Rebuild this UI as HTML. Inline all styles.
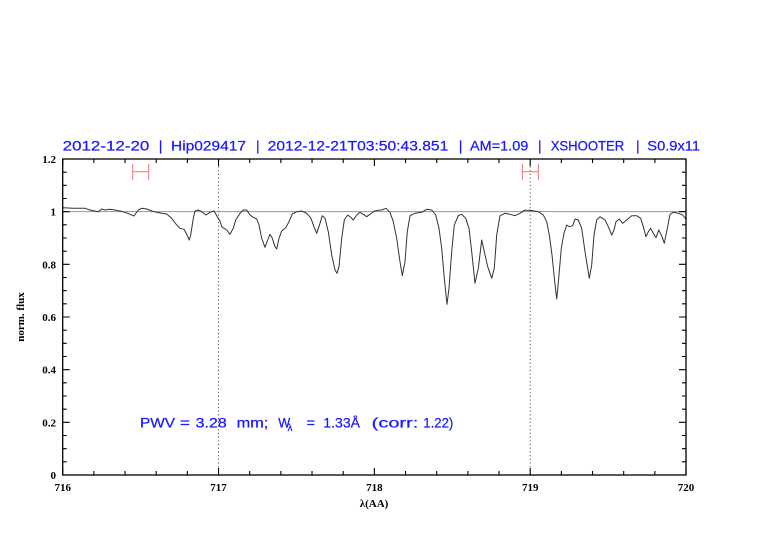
<!DOCTYPE html>
<html><head><meta charset="utf-8"><style>
html,body{margin:0;padding:0;background:#fff;}
svg{display:block;}
</style></head><body>
<svg width="782" height="542" viewBox="0 0 782 542" xmlns="http://www.w3.org/2000/svg">
<rect width="782" height="542" fill="#fff"/>
<!-- title -->
<g font-family="Liberation Sans, sans-serif" font-size="14" fill="#1a1aff" stroke="#1a1aff" stroke-width="0.25" lengthAdjust="spacingAndGlyphs">
<text x="62.7" y="150.5" textLength="86.6" lengthAdjust="spacingAndGlyphs">2012-12-20</text>
<text x="158.8" y="150.5">|</text>
<text x="171" y="150.5" textLength="75" lengthAdjust="spacingAndGlyphs">Hip029417</text>
<text x="256" y="150.5">|</text>
<text x="267.7" y="150.5" textLength="180.6" lengthAdjust="spacingAndGlyphs">2012-12-21T03:50:43.851</text>
<text x="458.7" y="150.5">|</text>
<text x="470" y="150.5" textLength="58.3" lengthAdjust="spacingAndGlyphs">AM=1.09</text>
<text x="538" y="150.5">|</text>
<text x="550.7" y="150.5" textLength="73.6" lengthAdjust="spacingAndGlyphs">XSHOOTER</text>
<text x="636" y="150.5">|</text>
<text x="647.3" y="150.5" textLength="52.7" lengthAdjust="spacingAndGlyphs">S0.9x11</text>
</g>
<!-- reference line y=1 -->
<line x1="62.7" y1="211.67" x2="686" y2="211.67" stroke="#f07070" stroke-width="1"/>
<!-- dotted verticals -->
<line x1="218.5" y1="159" x2="218.5" y2="475" stroke="#555" stroke-width="1" stroke-dasharray="1.2,2.5"/>
<line x1="530.2" y1="159" x2="530.2" y2="475" stroke="#555" stroke-width="1" stroke-dasharray="1.2,2.5"/>
<!-- spectrum -->
<polyline fill="none" stroke="#333" stroke-width="1" stroke-linejoin="round" points="62.7,207.7 73.3,208.3 85,208.3 90,210 98.3,211.7 101.7,209 105,210 110,209.3 115,210 120,211 125,212.3 130,214.3 134,216 138.3,210 141.7,208.3 146.7,209 151.7,211 156.7,212.3 161.7,213.3 166.7,214 171.7,218.3 176.7,225 180,228.3 184,229.3 186.7,234.3 189.3,240 190.7,235 193.3,218.3 195,211 198.3,210 201.7,211.7 206,215 210,212.3 214,211 217.3,216.7 220,221 221.7,226.7 226.7,230 230,234.3 233.3,228.3 235.7,220 240,213.3 243.3,210 246.7,210 250,215 253.3,217.3 256.7,219 259,225 261.7,238.3 265,247.3 267.7,240 270,234.3 272.3,238.3 275,246.7 276.7,249 279,238.3 281.7,231 285.7,227.7 289,221.7 292.3,214 296.7,211.7 301.7,211 306.7,213.3 311,218.3 314.3,227.7 316.7,233.3 320,223.3 322.3,215.7 325,218.3 328.3,231.7 331.7,255 335,270 337,273.3 339,266.7 341.7,238.3 344.3,220 347.7,215 350,216.7 353.3,220 356.7,215 360,212.3 363.3,214.3 366.7,216.7 370,214.3 374.3,211 378.3,210.3 381.7,210 386,208.3 390,212.3 393.3,221.7 396.7,238.3 400,261.7 402.3,275.7 405,261.7 407.3,231.7 410,215.7 415,213.3 421.7,212.3 426.7,209.3 431.7,210 435.7,215 439,228.3 441.7,248.3 444.3,278.3 447,304.3 449,288.3 451.7,251.7 454.3,225 458.3,215.7 461.7,214.3 465.7,218.3 469,228.3 471.7,251.7 475,283.3 478.3,268.3 481.7,240 484.3,251.7 487.7,266.7 491.7,278.3 494.3,268.3 496.7,235 500,215.7 505,213.3 510,214.3 515,215.7 520,213.3 524.3,210.3 530,210.3 538.3,211.7 543.3,215 546.7,221.7 549.3,235 552,255 554.7,281.7 556.7,299 558.7,278.3 561.3,248.3 564,233.3 566.7,225 569.3,226.7 572.7,225.7 575,219 578.3,220 581.7,228.3 585,251.7 589.3,278.3 591.7,265 594,235 596.7,220 600,216.7 605,220 608.3,226.7 611.7,235 614,230 616,221.7 619.3,219 622.7,223.3 626.7,220 631.7,215.7 636.7,215.7 640.7,218.3 643.3,226.7 646,236.7 648.3,231.7 650.7,228.3 653.3,233.3 656,237.7 658.7,230 661.7,235.7 664.3,243.3 666.7,231.7 670,214.3 673.3,212.3 678.3,213.3 682.7,215 685.7,219"/>
<!-- red error bars -->
<g stroke="#f07070" stroke-width="1" fill="none">
<path d="M132.7 171.7 H148.7 M132.7 164 V179.7 M148.7 164 V179.7"/>
<path d="M522.3 171.7 H538.3 M522.3 164 V179.7 M538.3 164 V179.7"/>
</g>
<!-- frame -->
<rect x="62.7" y="159" width="623.3" height="316" fill="none" stroke="#000" stroke-width="1.3"/>
<!-- ticks -->
<g stroke="#000" stroke-width="1.1" fill="none">
<path d="M62.7 475h7M62.7 461.83h4M62.7 448.67h4M62.7 435.5h4M62.7 422.33h7M62.7 409.17h4M62.7 396h4M62.7 382.83h4M62.7 369.67h7M62.7 356.5h4M62.7 343.33h4M62.7 330.17h4M62.7 317h7M62.7 303.83h4M62.7 290.67h4M62.7 277.5h4M62.7 264.33h7M62.7 251.17h4M62.7 238h4M62.7 224.83h4M62.7 211.67h7M62.7 198.5h4M62.7 185.33h4M62.7 172.17h4M62.7 159h7"/>
<path d="M686 475h-7M686 461.83h-4M686 448.67h-4M686 435.5h-4M686 422.33h-7M686 409.17h-4M686 396h-4M686 382.83h-4M686 369.67h-7M686 356.5h-4M686 343.33h-4M686 330.17h-4M686 317h-7M686 303.83h-4M686 290.67h-4M686 277.5h-4M686 264.33h-7M686 251.17h-4M686 238h-4M686 224.83h-4M686 211.67h-7M686 198.5h-4M686 185.33h-4M686 172.17h-4M686 159h-7"/>
<path d="M62.7 475v-7M93.87 475v-4M125.03 475v-4M156.2 475v-4M187.37 475v-4M218.53 475v-7M249.7 475v-4M280.87 475v-4M312.03 475v-4M343.2 475v-4M374.37 475v-7M405.53 475v-4M436.7 475v-4M467.87 475v-4M499.03 475v-4M530.2 475v-7M561.37 475v-4M592.53 475v-4M623.7 475v-4M654.87 475v-4M686 475v-7"/>
<path d="M62.7 159v7M93.87 159v4M125.03 159v4M156.2 159v4M187.37 159v4M218.53 159v7M249.7 159v4M280.87 159v4M312.03 159v4M343.2 159v4M374.37 159v7M405.53 159v4M436.7 159v4M467.87 159v4M499.03 159v4M530.2 159v7M561.37 159v4M592.53 159v4M623.7 159v4M654.87 159v4M686 159v7"/>
</g>
<!-- y labels -->
<g font-family="Liberation Serif, serif" font-size="11" font-weight="bold" fill="#000" text-anchor="end">
<text x="56" y="479">0</text>
<text x="56" y="426.3">0.2</text>
<text x="56" y="373.7">0.4</text>
<text x="56" y="321">0.6</text>
<text x="56" y="268.3">0.8</text>
<text x="56" y="215.7">1</text>
<text x="56" y="163">1.2</text>
</g>
<!-- x labels -->
<g font-family="Liberation Serif, serif" font-size="11" font-weight="bold" fill="#000" text-anchor="middle">
<text x="62.7" y="491">716</text>
<text x="218.5" y="491">717</text>
<text x="374.4" y="491">718</text>
<text x="530.2" y="491">719</text>
<text x="686" y="491">720</text>
<text x="374" y="507">λ(AA)</text>
</g>
<text transform="translate(24,317) rotate(-90)" font-family="Liberation Serif, serif" font-size="11" font-weight="bold" fill="#000" text-anchor="middle">norm. flux</text>
<!-- PWV annotation -->
<g font-family="Liberation Sans, sans-serif" font-size="14" fill="#1a1aff" stroke="#1a1aff" stroke-width="0.25">
<text x="140" y="427.7" textLength="35" lengthAdjust="spacingAndGlyphs">PWV</text>
<text x="180" y="427.7" textLength="10" lengthAdjust="spacingAndGlyphs">=</text>
<text x="195.7" y="427.7" textLength="31" lengthAdjust="spacingAndGlyphs">3.28</text>
<text x="236.7" y="427.7" textLength="31.6" lengthAdjust="spacingAndGlyphs">mm;</text>
<text x="278.3" y="427.7" textLength="12" lengthAdjust="spacingAndGlyphs">W</text>
<text x="287.5" y="431" font-size="10">λ</text>
<text x="306.7" y="427.7" textLength="8.3" lengthAdjust="spacingAndGlyphs">=</text>
<text x="323.3" y="427.7" textLength="36.7" lengthAdjust="spacingAndGlyphs">1.33Å</text>
<text x="371.7" y="427.7" textLength="46.6" lengthAdjust="spacingAndGlyphs">(corr:</text>
<text x="423.3" y="427.7" textLength="30" lengthAdjust="spacingAndGlyphs">1.22)</text>
</g>
</svg>
</body></html>
